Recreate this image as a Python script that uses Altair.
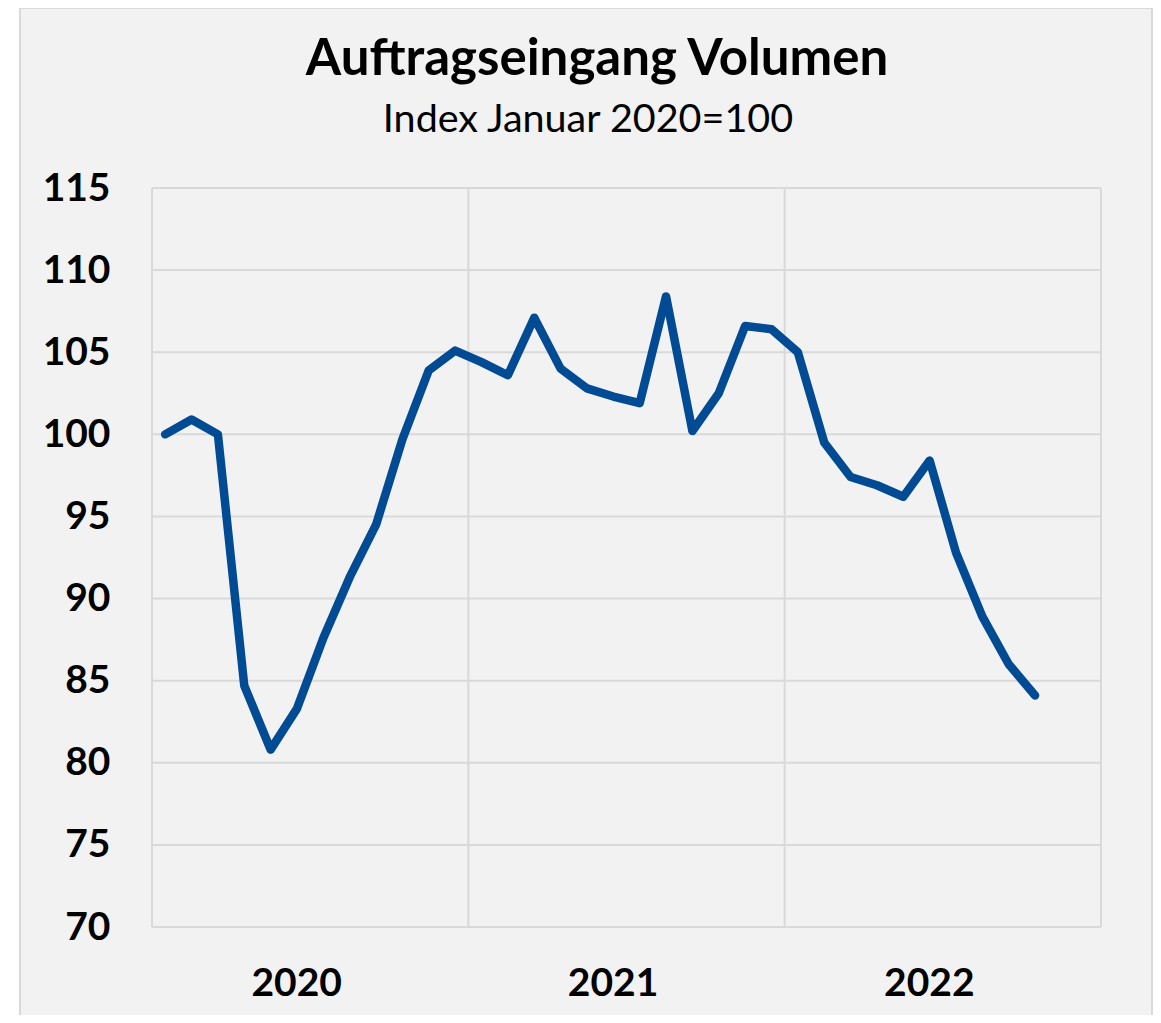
import json
import altair as alt
import pandas as pd

# ---- data ----
months = [
    "2020-01", "2020-02", "2020-03", "2020-04", "2020-05", "2020-06",
    "2020-07", "2020-08", "2020-09", "2020-10", "2020-11", "2020-12",
    "2021-01", "2021-02", "2021-03", "2021-04", "2021-05", "2021-06",
    "2021-07", "2021-08", "2021-09", "2021-10", "2021-11", "2021-12",
    "2022-01", "2022-02", "2022-03", "2022-04", "2022-05", "2022-06",
    "2022-07", "2022-08", "2022-09", "2022-10",
]
values = [
    100.0, 100.9, 100.0, 84.7, 80.8, 83.3,
    87.6, 91.3, 94.5, 99.7, 103.9, 105.1,
    104.4, 103.6, 107.1, 104.0, 102.8, 102.3,
    101.9, 108.4, 100.2, 102.5, 106.6, 106.4,
    105.0, 99.5, 97.4, 96.9, 96.2, 98.4,
    92.8, 88.9, 86.0, 84.1,
]
years = ["2020", "2021", "2022"]
y_ticks = [70, 75, 80, 85, 90, 95, 100, 105, 110, 115]
year_bounds = [0, 12, 24, 36]
title_text = "Auftragseingang Volumen"
subtitle_text = "Index Januar 2020=100"

FONT = "Lato"
LINE_COLOR = "#004b93"
GRID_COLOR = "#d9d9d9"
BG = "#f2f2f2"

df = pd.DataFrame({"month": months, "value": values})
df["pos"] = [i + 0.5 for i in range(len(months))]

xscale = alt.Scale(domain=[0, 36], nice=False, zero=False)
yscale = alt.Scale(domain=[70, 115], nice=False, zero=False)

xaxis = alt.Axis(
    values=[6, 18, 30],
    labelExpr=f"{json.dumps(years)}[floor(datum.value / 12)]",
    grid=False, domain=False, ticks=False, tickSize=0,
    labelFont=FONT, labelFontSize=39, labelFontWeight="bold",
    labelColor="black", labelPadding=37, labelOffset=-14, title=None, zindex=1,
)
yaxis = alt.Axis(
    values=y_ticks,
    grid=False, domain=False, ticks=False, tickSize=0,
    labelFont=FONT, labelFontSize=39, labelFontWeight="bold",
    labelColor="black", labelPadding=42, title=None, zindex=1,
)

# background box (decoration)
box = alt.Chart(alt.Data(values=[{"a": 1}])).mark_rect(
    fill=BG, stroke=GRID_COLOR, strokeWidth=2
).encode(
    x=alt.value(-132), x2=alt.value(1000), y=alt.value(-180), y2=alt.value(860)
)

hgrid = alt.Chart(pd.DataFrame({"y": y_ticks, "x0": 0, "x1": 36})).mark_rule(
    color=GRID_COLOR, strokeWidth=2
).encode(
    x=alt.X("x0:Q", scale=xscale, axis=xaxis),
    x2="x1:Q",
    y=alt.Y("y:Q", scale=yscale, axis=yaxis),
)

vgrid = alt.Chart(pd.DataFrame({"x": year_bounds, "y0": 70, "y1": 115})).mark_rule(
    color=GRID_COLOR, strokeWidth=2
).encode(
    x=alt.X("x:Q", scale=xscale, axis=xaxis),
    y=alt.Y("y0:Q", scale=yscale, axis=yaxis),
    y2="y1:Q",
)

line = alt.Chart(df).mark_line(
    color=LINE_COLOR, strokeWidth=8.5, strokeCap="round", strokeJoin="round",
).encode(
    x=alt.X("pos:Q", scale=xscale, axis=xaxis),
    y=alt.Y("value:Q", scale=yscale, axis=yaxis),
)

title = alt.Chart(alt.Data(values=[{"t": title_text}])).mark_text(
    font=FONT, fontSize=51, fontWeight="bold", color="black",
    align="center", baseline="alphabetic",
).encode(text="t:N", x=alt.value(445), y=alt.value(-113))

subtitle = alt.Chart(alt.Data(values=[{"t": subtitle_text}])).mark_text(
    font=FONT, fontSize=39.5, fontWeight="normal", color="black",
    align="center", baseline="alphabetic",
).encode(text="t:N", x=alt.value(436), y=alt.value(-56))

chart = alt.layer(box, hgrid, vgrid, line, title, subtitle).properties(
    width=949,
    height=739,
    background="white",
    padding={"left": 144, "top": 180, "right": 52, "bottom": 88},
    autosize=alt.AutoSizeParams(type="none"),
).configure_view(stroke=None)

chart.save("out.html", embed_options={"renderer": "svg", "actions": False})
